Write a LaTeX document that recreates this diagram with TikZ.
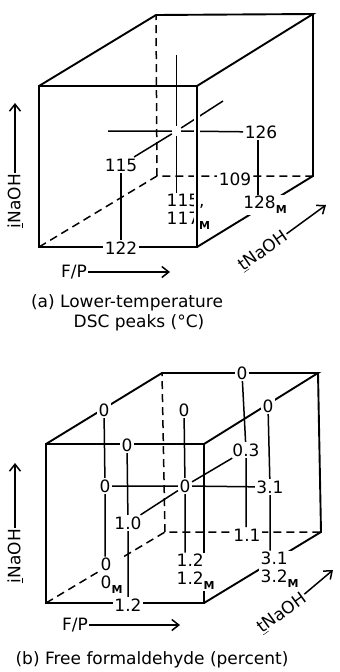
\documentclass[tikz,border=0pt]{standalone}
\usepackage{fontspec}
\setmainfont{DejaVu Sans}
\usetikzlibrary{arrows.meta}
\newcommand{\Msub}{\raisebox{-0.5ex}{\fontsize{11}{11}\selectfont\bfseries M}}

\begin{document}
\begin{tikzpicture} [x=1pt, y=-1pt,
	cubeedge/.style = {line width=1.9pt},
	frontedge/.style = {line width=2.5pt},
	hidden/.style = {line width=1.5pt, dash pattern=on 8pt off 5pt},
	gridline/.style = {line width=1.5pt},
	val/.style = {fill=white, inner sep=1.5pt, font=\fontsize{17}{18}\selectfont},
	lbl/.style = {inner sep=1pt, font=\fontsize{17}{18}\selectfont},
	axarrow/.style = {line width=1.5pt, -{Straight Barb[length=7pt,width=11pt]}}]
	\useasboundingbox (0,0) rectangle (340,672);
	%(a)
	\coordinate (a-fbl) at (39,247);
	\coordinate (a-fbr) at (197,247);
	\coordinate (a-ftr) at (197,86);
	\coordinate (a-ftl) at (39,86);
	\coordinate (a-bbl) at (157,176);
	\coordinate (a-bbr) at (313,176);
	\coordinate (a-btr) at (313,14);
	\coordinate (a-btl) at (156,15);
	\draw [hidden] (a-fbl) -- (a-bbl) -- (a-bbr);
	\draw [hidden] (a-bbl) -- (a-btl);
	\draw [cubeedge] (a-ftl) -- (a-btl) -- (a-btr) -- (a-ftr);
	\draw [cubeedge] (a-btr) -- (a-bbr) -- (a-fbr);
	%inside
	\node [inner sep=0pt, minimum size=9pt] (a-c) at (176.5,131) {};
	\coordinate (a-top) at (176.5,55);
	\coordinate (a-lft) at (108,131);
	\coordinate (a-bk) at (223,101);
	\node [val] (a115) at (121,165) {115};
	\node [val] (a122) at (121,248) {122};
	\node [val, fill=none, align=left, anchor=west] (a117) at (165,212) {115,\\117\Msub};
	\node [val] (a126) at (261,132) {126};
	\node [val] (a128) at (265,205) {128\Msub};
	\node [val] (a109) at (235,179) {109};
	\draw [gridline] (a-top) -- (a-c) -- (a-c |- a117.north);
	\draw [gridline] (a-lft) -- (a-c) -- (a126);
	\draw [gridline] (a115) -- (a-c) -- (a-bk);
	\draw [gridline] (a115) -- (a122);
	\draw [gridline] (a126.south) ++(-3,0) coordinate (a126s) -- (a126s |- a128.north);
	\draw [white, line width=6pt, shorten <=25pt, shorten >=25pt] (a-ftr) -- (a-fbr);
	\draw [frontedge] (a-ftl) rectangle (a-fbr);
	\node [val] at (a122) {122};
	\node [val] at (a128) {128\Msub};
	\node [val] at (a109) {109};
	%axes (a)
	\node [lbl, rotate=90] (a-naoh) at (15,201) {\underline{i}NaOH};
	\coordinate (a-up) at (15,103);
	\draw [axarrow] (a-naoh) -- (a-up);
	\node [lbl] (a-fp) at (74,272) {F/P};
	\coordinate (a-rt) at (170,272);
	\draw [axarrow] (a-fp) -- (a-rt);
	\node [lbl, rotate=35] (a-naoh2) at (263,251) {\underline{t}NaOH};
	\coordinate (a-dp) at (326,205);
	\draw [axarrow] (a-naoh2) -- (a-dp);
	\node [lbl] (a-cap1) at (127,303) {(a) Lower-temperature};
	\node [lbl] (a-cap2) at (139,323) {DSC peaks (°C)};
	%(b)
	\coordinate (b-fbl) at (46,603);
	\coordinate (b-fbr) at (204,603);
	\coordinate (b-ftr) at (204,444);
	\coordinate (b-ftl) at (46,444);
	\coordinate (b-bbl) at (165,532);
	\coordinate (b-bbr) at (321,532);
	\coordinate (b-btr) at (318,373);
	\coordinate (b-btl) at (162,373);
	\draw [hidden] (b-fbl) -- (b-bbl) -- (b-bbr);
	\draw [hidden] (b-bbl) -- (b-btl);
	\draw [cubeedge] (b-ftl) -- (b-btl) -- (b-btr) -- (b-ftr);
	\draw [cubeedge] (b-btr) -- (b-bbr) -- (b-fbr);
	\draw [frontedge] (b-ftl) rectangle (b-fbr);
	\node [val] (b-tb) at (242,373) {0};
	\node [val] (b-tl) at (104,410) {0};
	\node [val] (b-tc) at (184,410) {0};
	\node [val] (b-tr) at (268,406) {0};
	\node [val] (b-tf) at (127,445) {0};
	\node [val] (b-bk) at (246,450) {0.3};
	\node [val] (b-lf) at (105,486) {0};
	\node [val] (b-c) at (185,486) {0};
	\node [val] (b-rt) at (270,487) {3.1};
	\node [val] (b-fr) at (128,523) {1.0};
	\node [val] (b-bb) at (247,535) {1.1};
	\node [val, align=left, anchor=west] (b-bl) at (99,576) {0\\0\Msub};
	\node [val, align=left, anchor=west] (b-bc) at (175,572) {1.2\\1.2\Msub};
	\node [val, align=left, anchor=west] (b-br) at (259,570) {3.1\\3.2\Msub};
	\node [val] (b-ff) at (128,605) {1.2};
	\draw [gridline] (b-tb) -- (b-bk) -- (b-bk |- b-bb.north);
	\draw [gridline] (b-tl) -- (b-lf) -- (b-lf |- b-bl.north);
	\draw [gridline] (b-tf) -- (b-fr) -- (b-ff);
	\draw [gridline] (b-tc) -- (b-c) -- (b-c |- b-bc.north);
	\draw [gridline] (b-tr) -- (b-rt) -- (b-rt |- b-br.north);
	\draw [gridline] (b-lf) -- (b-c) -- (b-rt);
	\draw [gridline] (b-fr) -- (b-c) -- (b-bk);
	%axes (b)
	\node [lbl, rotate=90] (b-naoh) at (15,556) {\underline{i}NaOH};
	\coordinate (b-up) at (15,463);
	\draw [axarrow] (b-naoh) -- (b-up);
	\node [lbl] (b-fp) at (75,625) {F/P};
	\coordinate (b-rt2) at (180,625);
	\draw [axarrow] (b-fp) -- (b-rt2);
	\node [lbl, rotate=36] (b-naoh2) at (282,613) {\underline{t}NaOH};
	\coordinate (b-dp) at (333,570);
	\draw [axarrow] (b-naoh2) -- (b-dp);
	\node [lbl] (b-cap) at (152,660) {(b) Free formaldehyde (percent)};
\end{tikzpicture}
\end{document}
